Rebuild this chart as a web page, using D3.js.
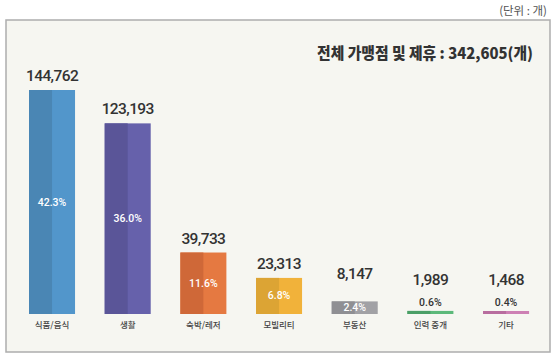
<!DOCTYPE html>
<html><head><meta charset="utf-8">
<script src="https://cdn.jsdelivr.net/npm/d3@7/dist/d3.min.js"></script>
<style>
html,body{margin:0;padding:0;background:#fff;}
svg{display:block;}
</style></head>
<body>
<svg id="c" width="559" height="359"></svg>
<script>
const categories = ["식품/음식","생활","숙박/레저","모빌리티","부동산","인력 중개","기타"];
const values = [144762,123193,39733,23313,8147,1989,1468];
const shares = ["42.3%","36.0%","11.6%","6.8%","2.4%","0.6%","0.4%"];
const darkColors = ["#4a86b4","#5a5598","#cf6838","#dca434","#8f8f93","#4a9e66","#b86d9f"];
const lightColors = ["#5296cb","#6661ab","#e57941","#f1b23a","#a1a1a5","#5cb97a","#cd80b4"];
const totalLabel = "전체 가맹점 및 제휴 : 342,605(개)";
const unitLabel = "(단위 : 개)";

const svg = d3.select("#c");
const baseY = 314;

svg.append("rect").attr("x",6).attr("y",20).attr("width",544).attr("height",332)
  .attr("fill","#f6f6f1").attr("stroke","#adadad").attr("stroke-width",1.5);

svg.append("text").attr("x",547).attr("y",15).attr("text-anchor","end")
  .attr("font-family","'Noto Sans CJK KR', 'Noto Sans', sans-serif")
  .attr("font-size",11.5).attr("fill","#555").text(unitLabel);

svg.append("text").attr("x",533).attr("y",59).attr("text-anchor","end")
  .attr("font-family","'Noto Sans CJK KR', sans-serif").attr("font-weight",900)
  .attr("font-size",15.5).attr("fill","#333")
  .attr("textLength",216).attr("lengthAdjust","spacingAndGlyphs")
  .text(totalLabel);

const x = d3.scaleBand().domain(categories).range([14.2,543.9]).paddingInner(0.392).paddingOuter(0.196);
const y = d3.scaleLinear().domain([0, d3.max(values)]).range([baseY, 90]);

const data = categories.map((c,i)=>({c, v:values[i], s:shares[i], dk:darkColors[i], lt:lightColors[i]}));
const barTop = d => Math.min(y(d.v), baseY - 3);

const g = svg.append("g");
const bw = x.bandwidth();

g.selectAll("rect.lt").data(data).join("rect").attr("class","lt")
  .attr("x",d=>x(d.c)).attr("width",bw)
  .attr("y",d=>barTop(d)).attr("height",d=>baseY-barTop(d)).attr("fill",d=>d.lt);
g.selectAll("rect.dk").data(data).join("rect").attr("class","dk")
  .attr("x",d=>x(d.c)).attr("width",bw/2)
  .attr("y",d=>barTop(d)).attr("height",d=>baseY-barTop(d)).attr("fill",d=>d.dk);

const inside = d => (baseY - barTop(d)) >= 10;

g.selectAll("text.pct").data(data).join("text").attr("class","pct")
  .attr("x",d=>x(d.c)+bw/2)
  .attr("y",d=> inside(d) ? (barTop(d)+baseY)/2 + 3.5 : barTop(d) - 5)
  .attr("text-anchor","middle")
  .attr("font-family","Roboto, 'Liberation Sans', Arial, sans-serif")
  .attr("font-weight",500).attr("font-size",10.5)
  .attr("fill",d=> inside(d) ? "#fff" : "#333")
  .text(d=>d.s);

g.selectAll("text.val").data(data).join("text").attr("class","val")
  .attr("x",d=>x(d.c)+bw/2)
  .attr("y",d=> inside(d) ? (barTop(d) > 290 ? barTop(d) - 22 : barTop(d) - 9) : barTop(d) - 26)
  .attr("text-anchor","middle")
  .attr("font-family","Roboto, 'Liberation Sans', Arial, sans-serif")
  .attr("font-weight",500)
  .attr("font-size",15.5).attr("letter-spacing",-0.6).attr("fill","#333")
  .text(d=>d3.format(",")(d.v));

g.selectAll("text.cat").data(data).join("text").attr("class","cat")
  .attr("x",d=>x(d.c)+bw/2).attr("y",328)
  .attr("text-anchor","middle")
  .attr("font-family","'Noto Sans CJK KR', sans-serif")
  .attr("font-weight",500)
  .attr("font-size",8.5).attr("fill","#444")
  .text(d=>d.c);
</script>
</body></html>
